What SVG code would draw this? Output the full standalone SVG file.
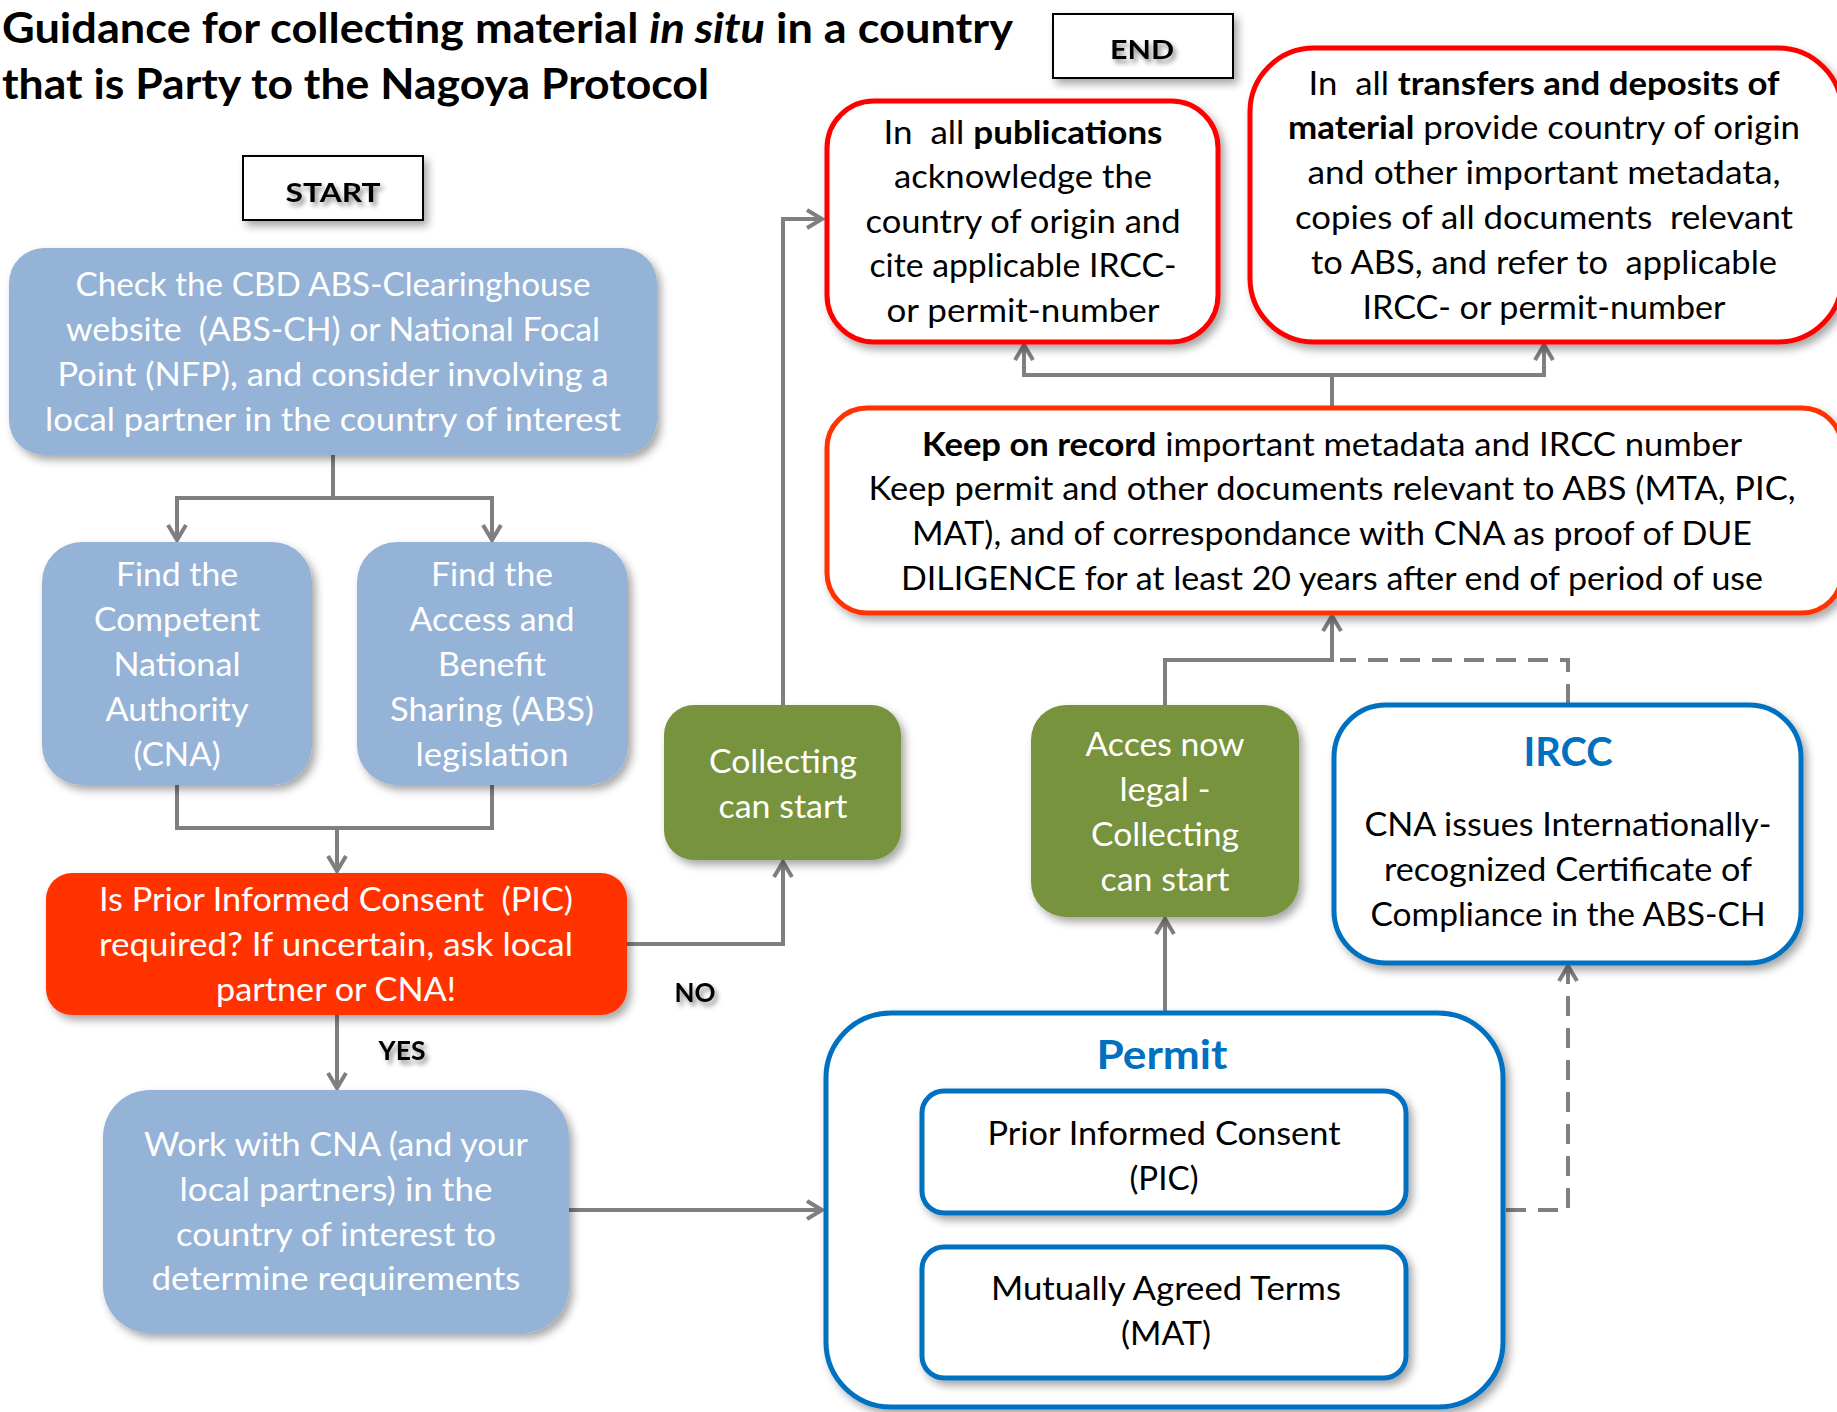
<svg xmlns="http://www.w3.org/2000/svg" width="1837" height="1412" viewBox="0 0 1837 1412">
<defs>
<filter id="sh" x="-10%" y="-10%" width="130%" height="130%">
<feDropShadow dx="4" dy="5" stdDeviation="4" flood-color="#000" flood-opacity="0.35"/>
</filter>
<filter id="tsh" x="-20%" y="-30%" width="150%" height="170%">
<feDropShadow dx="3" dy="4" stdDeviation="2.5" flood-color="#000" flood-opacity="0.45"/>
</filter>
<marker id="ar" viewBox="0 0 22 22" refX="18" refY="11" markerWidth="22" markerHeight="22" markerUnits="userSpaceOnUse" orient="auto">
<path d="M3,2 L18,11 L3,20" fill="none" stroke="#7F7F7F" stroke-width="4"/>
</marker>
</defs>
<style>
text{font-family:Lato,"Liberation Sans",sans-serif;}
.t{font-size:32px;text-anchor:middle;}
.w{fill:#fff;}
.k{fill:#000;}
.b{font-weight:bold;}
.lbl{font-weight:bold;font-size:27px;text-anchor:middle;fill:#000;}
.blue{fill:#95B3D7;}
.green{fill:#77933C;}
.redbox{fill:#fff;stroke:#FF0000;stroke-width:5;}
.orbox{fill:#fff;stroke:#FF3300;stroke-width:5;}
.bluebox{fill:#fff;stroke:#0070C0;stroke-width:5;}
.ttl{font-size:41px;font-weight:bold;text-anchor:middle;fill:#0070C0;}
.con{fill:none;stroke:#7F7F7F;stroke-width:4;}
.dash{stroke-dasharray:20 12;}
</style>

<g id="title">
<text x="2" y="43" font-size="42" font-weight="bold" textLength="1011" lengthAdjust="spacingAndGlyphs">Guidance for collecting material <tspan font-style="italic">in situ</tspan> in a country</text>
<text x="2" y="99" font-size="42" font-weight="bold" textLength="707" lengthAdjust="spacingAndGlyphs">that is Party to the Nagoya Protocol</text>
</g>

<g id="connectors">
<path class="con" d="M333,455 V498 H177 V540" marker-end="url(#ar)"/>
<path class="con" d="M333,498 H492 V540" marker-end="url(#ar)"/>
<path class="con" d="M177,785 V828 H492 V785"/>
<path class="con" d="M337,828 V871" marker-end="url(#ar)"/>
<path class="con" d="M337,1015 V1088" marker-end="url(#ar)"/>
<path class="con" d="M627,944 H783 V862" marker-end="url(#ar)"/>
<path class="con" d="M783,705 V219 H822" marker-end="url(#ar)"/>
<path class="con" d="M569,1210 H822" marker-end="url(#ar)"/>
<path class="con" d="M1165,1012 V919" marker-end="url(#ar)"/>
<path class="con" d="M1165,705 V660 H1332 V616" marker-end="url(#ar)"/>
<path class="con dash" d="M1568,704 V660 H1340"/>
<path class="con dash" d="M1506,1210 H1568 V966" marker-end="url(#ar)"/>
<path class="con" d="M1332,407 V375 H1024 V345" marker-end="url(#ar)"/>
<path class="con" d="M1332,375 H1544 V345" marker-end="url(#ar)"/>
</g>

<g id="start">
<rect x="243" y="156" width="180" height="64" fill="#fff" stroke="#000" stroke-width="2" filter="url(#sh)"/>
<text x="333" y="202" class="lbl" font-size="33" filter="url(#tsh)" textLength="95" lengthAdjust="spacingAndGlyphs">START</text>
</g>

<g id="end">
<rect x="1053" y="14" width="180" height="64" fill="#fff" stroke="#000" stroke-width="2" filter="url(#sh)"/>
<text x="1142" y="59" class="lbl" font-size="33" filter="url(#tsh)" textLength="64" lengthAdjust="spacingAndGlyphs">END</text>
</g>

<g id="check">
<rect class="blue" x="9" y="248" width="648" height="207" rx="35" filter="url(#sh)"/>
<text class="t w" x="333" y="296" textLength="515" lengthAdjust="spacingAndGlyphs">Check the CBD ABS-Clearinghouse</text>
<text class="t w" x="333" y="341" textLength="534" lengthAdjust="spacingAndGlyphs" xml:space="preserve">website  (ABS-CH) or National Focal</text>
<text class="t w" x="333" y="386" textLength="551" lengthAdjust="spacingAndGlyphs">Point (NFP), and consider involving a</text>
<text class="t w" x="333" y="431" textLength="576" lengthAdjust="spacingAndGlyphs">local partner in the country of interest</text>
</g>

<g id="cna">
<rect class="blue" x="42" y="542" width="270" height="243" rx="40" filter="url(#sh)"/>
<text class="t w" x="177" y="586" textLength="122" lengthAdjust="spacingAndGlyphs">Find the</text>
<text class="t w" x="177" y="631" textLength="166" lengthAdjust="spacingAndGlyphs">Competent</text>
<text class="t w" x="177" y="676" textLength="127" lengthAdjust="spacingAndGlyphs">National</text>
<text class="t w" x="177" y="721" textLength="143" lengthAdjust="spacingAndGlyphs">Authority</text>
<text class="t w" x="177" y="766" textLength="87" lengthAdjust="spacingAndGlyphs">(CNA)</text>
</g>

<g id="abs">
<rect class="blue" x="357" y="542" width="271" height="243" rx="40" filter="url(#sh)"/>
<text class="t w" x="492" y="586" textLength="122" lengthAdjust="spacingAndGlyphs">Find the</text>
<text class="t w" x="492" y="631" textLength="165" lengthAdjust="spacingAndGlyphs">Access and</text>
<text class="t w" x="492" y="676" textLength="108" lengthAdjust="spacingAndGlyphs">Benefit</text>
<text class="t w" x="492" y="721" textLength="204" lengthAdjust="spacingAndGlyphs">Sharing (ABS)</text>
<text class="t w" x="492" y="766" textLength="153" lengthAdjust="spacingAndGlyphs">legislation</text>
</g>

<g id="pic-question">
<rect x="46" y="873" width="581" height="142" rx="26" fill="#FF3300" filter="url(#sh)"/>
<text class="t w" x="336" y="911" textLength="474" lengthAdjust="spacingAndGlyphs" xml:space="preserve">Is Prior Informed Consent  (PIC)</text>
<text class="t w" x="336" y="956" textLength="474" lengthAdjust="spacingAndGlyphs">required? If uncertain, ask local</text>
<text class="t w" x="336" y="1001" textLength="240" lengthAdjust="spacingAndGlyphs">partner or CNA!</text>
</g>

<g id="yes">
<text x="402" y="1060" class="lbl" font-size="28" filter="url(#tsh)" textLength="47" lengthAdjust="spacingAndGlyphs">YES</text>
</g>
<g id="no">
<text x="695" y="1002" class="lbl" font-size="28" filter="url(#tsh)" textLength="41" lengthAdjust="spacingAndGlyphs">NO</text>
</g>

<g id="work">
<rect class="blue" x="103" y="1090" width="466" height="243" rx="47" filter="url(#sh)"/>
<text class="t w" x="336" y="1156" textLength="384" lengthAdjust="spacingAndGlyphs">Work with CNA (and your</text>
<text class="t w" x="336" y="1201" textLength="313" lengthAdjust="spacingAndGlyphs">local partners) in the</text>
<text class="t w" x="336" y="1246" textLength="320" lengthAdjust="spacingAndGlyphs">country of interest to</text>
<text class="t w" x="336" y="1290" textLength="369" lengthAdjust="spacingAndGlyphs">determine requirements</text>
</g>

<g id="collecting">
<rect class="green" x="664" y="705" width="237" height="155" rx="30" filter="url(#sh)"/>
<text class="t w" x="783" y="773" textLength="148" lengthAdjust="spacingAndGlyphs">Collecting</text>
<text class="t w" x="783" y="818" textLength="129" lengthAdjust="spacingAndGlyphs">can start</text>
</g>

<g id="acces">
<rect class="green" x="1031" y="705" width="268" height="212" rx="35" filter="url(#sh)"/>
<text class="t w" x="1165" y="756" textLength="159" lengthAdjust="spacingAndGlyphs">Acces now</text>
<text class="t w" x="1165" y="801" textLength="91" lengthAdjust="spacingAndGlyphs">legal -</text>
<text class="t w" x="1165" y="846" textLength="148" lengthAdjust="spacingAndGlyphs">Collecting</text>
<text class="t w" x="1165" y="891" textLength="129" lengthAdjust="spacingAndGlyphs">can start</text>
</g>

<g id="ircc">
<rect class="bluebox" x="1334" y="705" width="467" height="258" rx="52" filter="url(#sh)"/>
<text class="ttl" x="1568" y="766" textLength="89" lengthAdjust="spacingAndGlyphs">IRCC</text>
<text class="t k" x="1568" y="836" textLength="407" lengthAdjust="spacingAndGlyphs">CNA issues Internationally-</text>
<text class="t k" x="1568" y="881" textLength="368" lengthAdjust="spacingAndGlyphs">recognized Certificate of</text>
<text class="t k" x="1568" y="926" textLength="395" lengthAdjust="spacingAndGlyphs">Compliance in the ABS-CH</text>
</g>

<g id="permit">
<rect class="bluebox" x="826" y="1013" width="677" height="394" rx="65" filter="url(#sh)"/>
<text class="ttl" x="1162" y="1069" textLength="131" lengthAdjust="spacingAndGlyphs">Permit</text>
</g>

<g id="pic">
<rect class="bluebox" x="922" y="1091" width="484" height="122" rx="22" filter="url(#sh)"/>
<text class="t k" x="1164" y="1145" textLength="353" lengthAdjust="spacingAndGlyphs">Prior Informed Consent</text>
<text class="t k" x="1164" y="1190" textLength="69" lengthAdjust="spacingAndGlyphs">(PIC)</text>
</g>

<g id="mat">
<rect class="bluebox" x="922" y="1247" width="484" height="131" rx="22" filter="url(#sh)"/>
<text class="t k" x="1166" y="1300" textLength="350" lengthAdjust="spacingAndGlyphs">Mutually Agreed Terms</text>
<text class="t k" x="1166" y="1345" textLength="90" lengthAdjust="spacingAndGlyphs">(MAT)</text>
</g>

<g id="keep">
<rect class="orbox" x="827" y="408" width="1015" height="205" rx="40" filter="url(#sh)"/>
<text class="t k" x="1332" y="456" textLength="820" lengthAdjust="spacingAndGlyphs"><tspan class="b">Keep on record</tspan> important metadata and IRCC number</text>
<text class="t k" x="1332" y="500" textLength="927" lengthAdjust="spacingAndGlyphs">Keep permit and other documents relevant to ABS (MTA, PIC,</text>
<text class="t k" x="1332" y="545" textLength="840" lengthAdjust="spacingAndGlyphs">MAT), and of correspondance with CNA as proof of DUE</text>
<text class="t k" x="1332" y="590" textLength="862" lengthAdjust="spacingAndGlyphs">DILIGENCE for at least 20 years after end of period of use</text>
</g>

<g id="publications">
<rect class="redbox" x="827" y="101" width="391" height="241" rx="47" filter="url(#sh)"/>
<text class="t k" x="1023" y="144" textLength="279" lengthAdjust="spacingAndGlyphs" xml:space="preserve">In  all <tspan class="b">publications</tspan></text>
<text class="t k" x="1023" y="188" textLength="258" lengthAdjust="spacingAndGlyphs">acknowledge the</text>
<text class="t k" x="1023" y="233" textLength="315" lengthAdjust="spacingAndGlyphs">country of origin and</text>
<text class="t k" x="1023" y="277" textLength="307" lengthAdjust="spacingAndGlyphs">cite applicable IRCC-</text>
<text class="t k" x="1023" y="322" textLength="273" lengthAdjust="spacingAndGlyphs">or permit-number</text>
</g>

<g id="transfers">
<rect class="redbox" x="1250" y="48" width="592" height="294" rx="64" filter="url(#sh)"/>
<text class="t k" x="1544" y="95" textLength="471" lengthAdjust="spacingAndGlyphs" xml:space="preserve">In  all <tspan class="b">transfers and deposits of</tspan></text>
<text class="t k" x="1544" y="139" textLength="512" lengthAdjust="spacingAndGlyphs"><tspan class="b">material</tspan> provide country of origin</text>
<text class="t k" x="1544" y="184" textLength="473" lengthAdjust="spacingAndGlyphs">and other important metadata,</text>
<text class="t k" x="1544" y="229" textLength="498" lengthAdjust="spacingAndGlyphs" xml:space="preserve">copies of all documents  relevant</text>
<text class="t k" x="1544" y="274" textLength="466" lengthAdjust="spacingAndGlyphs" xml:space="preserve">to ABS, and refer to  applicable</text>
<text class="t k" x="1544" y="319" textLength="363" lengthAdjust="spacingAndGlyphs">IRCC- or permit-number</text>
</g>
</svg>
